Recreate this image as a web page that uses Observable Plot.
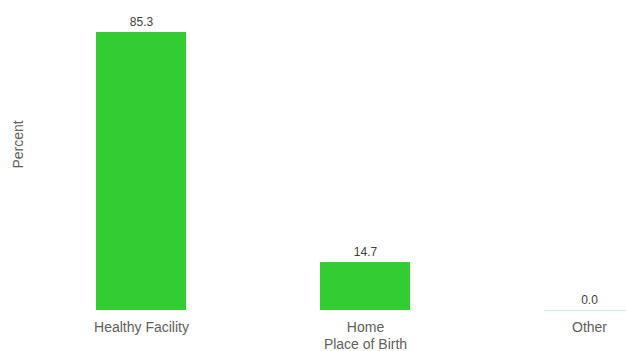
<!DOCTYPE html>
<html>
<head>
<meta charset="utf-8">
<script src="https://cdn.jsdelivr.net/npm/d3@7"></script>
<script src="https://cdn.jsdelivr.net/npm/@observablehq/plot@0.6"></script>
<style>
  html, body { margin: 0; padding: 0; background: #fff; }
  svg { display: block; }
</style>
</head>
<body>
<div id="chart"></div>
<script>
const categories = ["Healthy Facility", "Home", "Other"];
const values = [85.3, 14.7, 0.0];
const xTitle = "Place of Birth";
const yTitle = "Percent";

const data = categories.map((c, i) => ({category: c, value: values[i]}));
const barColor = "#33cc33";
const font = "Liberation Sans, Arial, sans-serif";

const chart = Plot.plot({
  width: 626,
  height: 351,
  marginTop: 32,
  marginBottom: 41,
  marginLeft: 104,
  marginRight: 0,
  style: {fontFamily: font, background: "#fff", overflow: "hidden"},
  x: {domain: categories, range: [96, 633.6], paddingInner: 0.6, paddingOuter: 0, label: null},
  y: {domain: [0, 85.3], label: null, axis: null},
  marks: [
    Plot.barY(data, {x: "category", y: "value", fill: barColor}),
    Plot.tickY(data, {x: "category", y: "value", stroke: barColor, strokeOpacity: 0.2, strokeWidth: 1}),
    Plot.text(data, {x: "category", y: "value", text: d => d.value.toFixed(1), dy: -10, fontSize: 12, fill: "#404040"}),
    Plot.axisX({tickSize: 0, tickPadding: 12, fontSize: 14, color: "#606060", label: null}),
    Plot.text([xTitle], {frameAnchor: "bottom", dy: 38, fontSize: 14, fill: "#606060"}),
    Plot.text([yTitle], {frameAnchor: "left", dx: -86, dy: -3, rotate: -90, fontSize: 14, fill: "#606060"})
  ]
});
document.getElementById("chart").appendChild(chart);
</script>
</body>
</html>
